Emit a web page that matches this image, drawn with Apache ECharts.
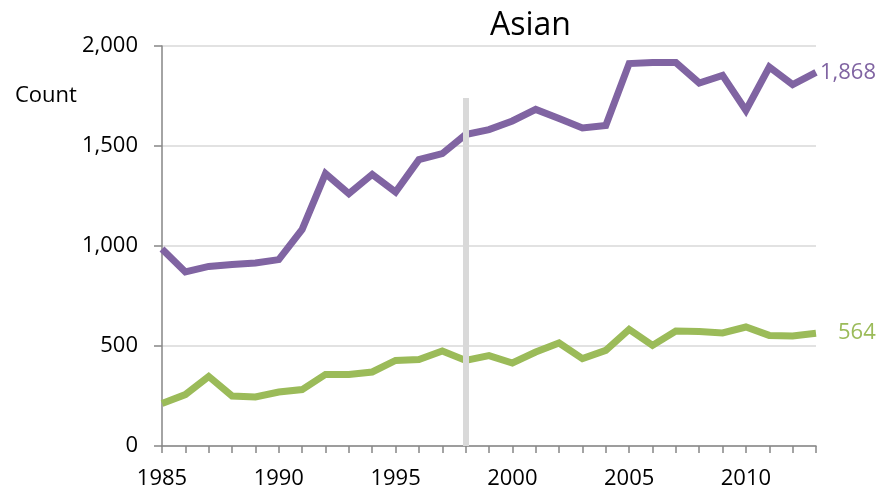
<!DOCTYPE html>
<html>
<head>
<meta charset="utf-8">
<script src="https://cdn.jsdelivr.net/npm/echarts@6/dist/echarts.min.js"></script>
<style>
html,body{margin:0;padding:0;background:#fff;}
#main{width:879px;height:492px;}
</style>
</head>
<body>
<div id="main"></div>
<script>
// 年份
var years = [];
for (var y = 1985; y <= 2013; y++) years.push(String(y));
// 紫色系列
var purple = [985,870,898,907,915,932,1083,1362,1262,1358,1270,1432,1462,1557,1582,
	1625,1683,1637,1590,1603,1912,1918,1917,1815,1853,1678,1895,1807,1868];
// 绿色系列
var green = [212,257,348,250,245,270,282,358,358,370,428,432,475,428,452,
	415,470,515,437,478,583,503,575,573,565,595,553,550,564];
// 灰色竖线位置
var markYear = "1998";
var markTop = 1740;

var font = "Open Sans";
var myChart = echarts.init(document.getElementById("main"));
var option = {
	animation:false,
	textStyle:{fontFamily:font},
	title:{
		text:"Asian",
		left:485,
		top:5,
		textStyle:{fontFamily:font,fontSize:32,fontWeight:"normal",color:"#000"}
	},
	graphic:[{
		type:"text",
		left:15,
		top:85,
		style:{text:"Count",font:"22px '" + font + "'",fill:"#000"}
	}],
	grid:{left:162,right:63,top:46,bottom:46},
	xAxis:{
		type:"category",
		data:years,
		boundaryGap:false,
		axisLine:{lineStyle:{color:"#868686",width:1.5}},
		axisTick:{show:true,interval:0,length:7,lineStyle:{color:"#868686",width:1.5}},
		axisLabel:{interval:4,fontSize:22,color:"#000",margin:22,fontFamily:font},
		splitLine:{show:false}
	},
	yAxis:{
		type:"value",
		min:0,
		max:2000,
		interval:500,
		axisLine:{show:true,lineStyle:{color:"#868686",width:1.5}},
		axisTick:{show:true,length:8,lineStyle:{color:"#868686",width:1.5}},
		axisLabel:{
			fontSize:22,color:"#000",margin:24,fontFamily:font,
			formatter:function(v){return v.toLocaleString("en-US");}
		},
		splitLine:{lineStyle:{color:"#d9d9d9",width:1.5}}
	},
	series:[
		{
			type:"line",
			data:[],
			z:1,
			markLine:{
				silent:true,
				symbol:"none",
				label:{show:false},
				lineStyle:{color:"#d9d9d9",width:6,type:"solid"},
				data:[[{coord:[markYear,0]},{coord:[markYear,markTop]}]]
			}
		},
		{
			name:"purple",
			type:"line",
			data:purple,
			z:3,
			showSymbol:false,
			lineStyle:{color:"#8064A2",width:7,join:"miter"},
			itemStyle:{color:"#8064A2"},
			endLabel:{
				show:true,
				distance:4,
				color:"#8064A2",
				fontSize:22,
				fontFamily:font,
				formatter:function(p){return p.value.toLocaleString("en-US");}
			}
		},
		{
			name:"green",
			type:"line",
			data:green,
			z:3,
			showSymbol:false,
			lineStyle:{color:"#9BBB59",width:7,join:"miter"},
			itemStyle:{color:"#9BBB59"},
			endLabel:{
				show:true,
				distance:22,
				color:"#9BBB59",
				fontSize:22,
				fontFamily:font,
				formatter:function(p){return p.value.toLocaleString("en-US");}
			}
		}
	]
};
myChart.setOption(option);
</script>
</body>
</html>
